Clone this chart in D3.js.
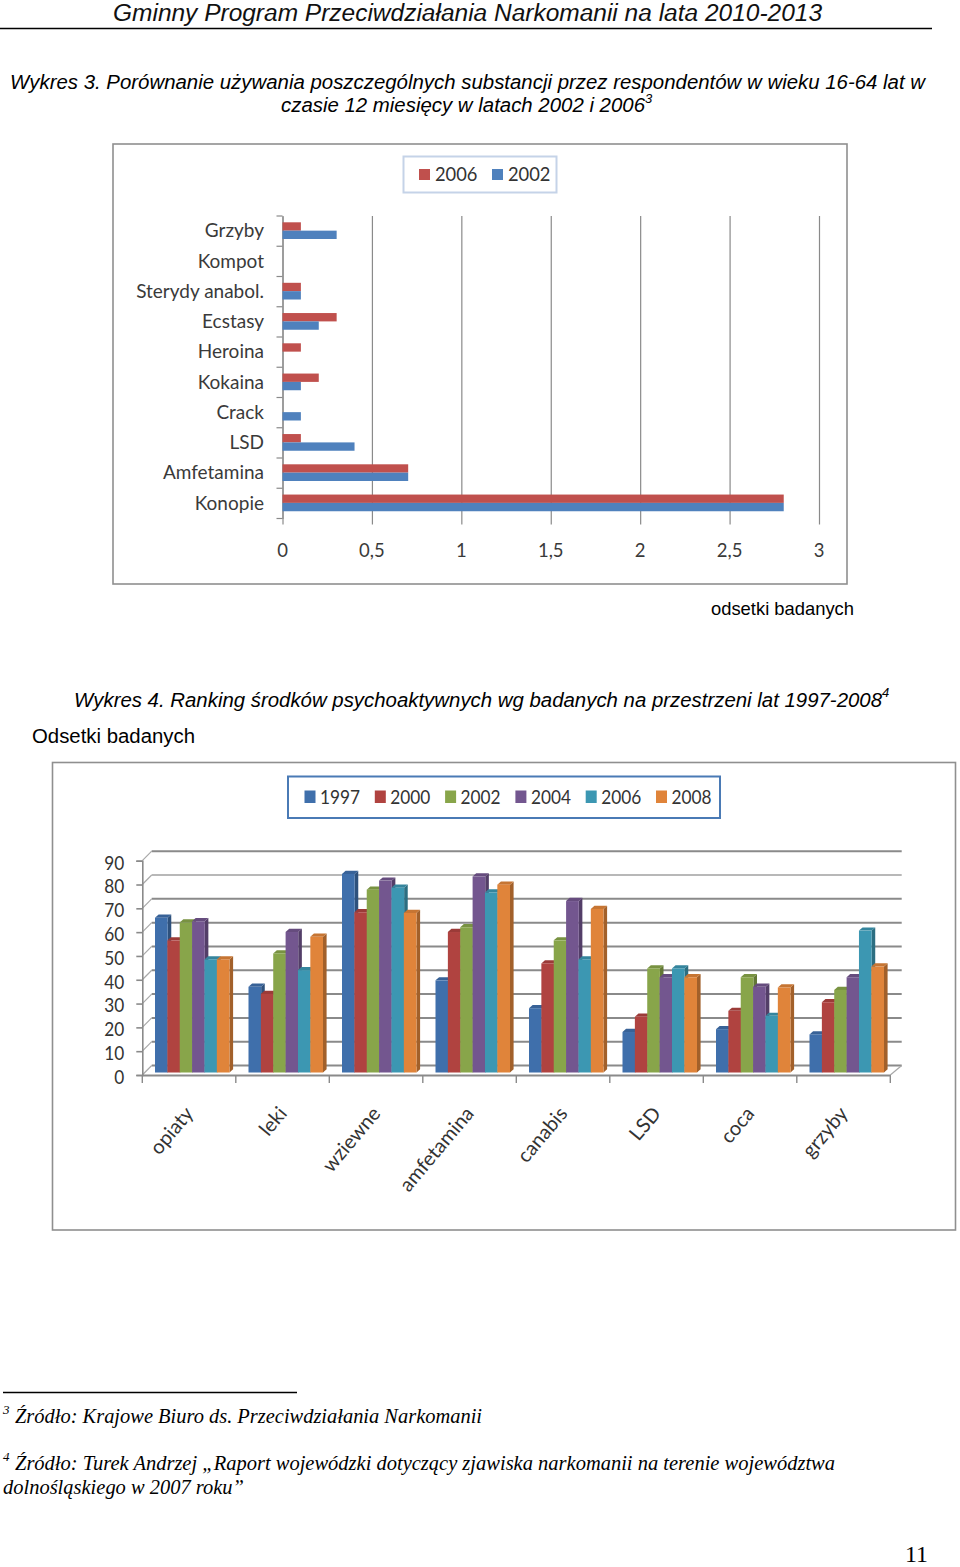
<!DOCTYPE html>
<html><head><meta charset="utf-8">
<script src="https://cdn.jsdelivr.net/npm/d3@7/dist/d3.min.js"></script>
<style>html,body{margin:0;padding:0;background:#fff}svg{display:block}</style>
</head><body><svg id="c" width="960" height="1567"></svg>
<script>
const hCategories = ["Grzyby","Kompot","Sterydy anabol.","Ecstasy","Heroina","Kokaina","Crack","LSD","Amfetamina","Konopie"];
const hSeriesNames = ["2006","2002"];
const h2006 = [0.1,0,0.1,0.3,0.1,0.2,0,0.1,0.7,2.8];
const h2002 = [0.3,0,0.1,0.2,0,0.1,0.1,0.4,0.7,2.8];
const hTicks = [0,0.5,1,1.5,2,2.5,3];
const hTickLabels = ["0","0,5","1","1,5","2","2,5","3"];

const vCategories = ["opiaty","leki","wziewne","amfetamina","canabis","LSD","coca","grzyby"];
const vSeriesNames = ["1997","2000","2002","2004","2006","2008"];
const v1997 = [65,36,83.4,38.7,27,17,18.2,16];
const v2000 = [55.5,33,67.3,59,45.8,23.4,25.9,29.5];
const v2002 = [63,50,76.8,61,55.5,43.7,40,34.7];
const v2004 = [63.5,59,80.6,82.3,72,40,36,40];
const v2006 = [47.5,43,77.6,75.6,47.5,43.7,23.8,59.6];
const v2008 = [47.5,57,67,78.9,68.7,40,35.7,44.5];
const vTicks = [0,10,20,30,40,50,60,70,80,90];

const svg = d3.select("#c");
const CHART = "Lato, sans-serif", SANS = "'Liberation Sans', Arial, sans-serif", SERIF = "'Liberation Serif', serif";
function txt(s,x,y,size,fam,opt={}){
  const t = svg.append("text").attr("x",x).attr("y",y).attr("font-size",size).attr("font-family",fam)
    .attr("fill",opt.fill||"#000").attr("font-style",opt.italic?"italic":"normal").text(s);
  if(opt.anchor) t.attr("text-anchor",opt.anchor);
  if(opt.len) t.attr("textLength",opt.len).attr("lengthAdjust","spacingAndGlyphs");
  return t;
}
// page text
txt("Gminny Program Przeciwdziałania Narkomanii na lata 2010-2013",113,21,23,SANS,{italic:1,fill:"#111",len:709});
svg.append("line").attr("x1",0).attr("x2",932).attr("y1",28.5).attr("y2",28.5).attr("stroke","#000").attr("stroke-width",1.4);
txt("Wykres 3. Porównanie używania poszczególnych substancji przez respondentów w wieku 16-64 lat w",10,89,20,SANS,{italic:1,len:915});
txt("czasie 12 miesięcy w latach 2002 i 2006",281,112,20,SANS,{italic:1,len:364});
txt("3",645,103,13,SANS,{italic:1});
txt("odsetki badanych",711,615,18.5,SANS,{len:143});
txt("Wykres 4. Ranking środków psychoaktywnych wg badanych na przestrzeni lat 1997-2008",74,707,20,SANS,{italic:1,len:808});
txt("4",882,697,13,SANS,{italic:1});
txt("Odsetki badanych",32,743,20,SANS,{len:163});
svg.append("line").attr("x1",3).attr("x2",297).attr("y1",1392.5).attr("y2",1392.5).attr("stroke","#000").attr("stroke-width",1.4);
txt("3",3,1414,13,SERIF,{italic:1});
txt("Źródło: Krajowe Biuro ds. Przeciwdziałania Narkomanii",15,1423,20,SERIF,{italic:1,len:467});
txt("4",3,1461,13,SERIF,{italic:1});
txt("Źródło: Turek Andrzej „Raport wojewódzki dotyczący zjawiska narkomanii na terenie województwa",15,1470,20,SERIF,{italic:1,len:820});
txt("dolnośląskiego w 2007 roku”",3,1494,20,SERIF,{italic:1,len:241});
txt("11",905,1562,23,SERIF,{len:23});

// ---------- Chart 1 (horizontal)
const frame = (x,y,w,h)=>svg.append("rect").attr("x",x).attr("y",y).attr("width",w).attr("height",h).attr("fill","#fff").attr("stroke","#8f8f8f").attr("stroke-width",1.6);
frame(113,144,734,440);
const hX = d3.scaleLinear().domain([0,3]).range([282.5,819]);
const hY = d3.scaleBand().domain(hCategories).range([216,518.5]);
const hS = d3.scaleBand().domain(hSeriesNames).range([6.3,23]);
const hColors = {"2006":"#c0504d","2002":"#4f81bd"};
const G1 = svg.append("g");
const hXAxis = d3.axisBottom(hX).tickValues(hTicks).tickSize(6).tickFormat((d,i)=>hTickLabels[i]);
const gx = G1.append("g").attr("transform","translate(0,518.5)").call(hXAxis);
gx.select(".domain").remove();
gx.selectAll("line").attr("stroke","#8a8a8a").attr("stroke-width",1.2).attr("y1",-302.5);
gx.selectAll("text").attr("font-family",CHART).attr("font-size",18.5).attr("fill","#3a3a3a").attr("y",25.5).attr("dy","0.71em").attr("dx","-0.5");
const hYAxis = d3.axisLeft(hY).tickSize(0).tickPadding(18.5);
const gy = G1.append("g").attr("transform","translate(282.5,0)").call(hYAxis);
gy.select(".domain").attr("stroke","#8a8a8a").attr("stroke-width",1.2);
gy.selectAll("text").attr("font-family",CHART).attr("font-size",19).attr("fill","#3a3a3a").attr("dy","0.33em");
G1.append("g").selectAll("line").data(hCategories.concat(["end"])).join("line")
  .attr("x1",276.5).attr("x2",282.5).attr("y1",(d,i)=>216+i*hY.step()).attr("y2",(d,i)=>216+i*hY.step())
  .attr("stroke","#8a8a8a").attr("stroke-width",1.2);
[["2006",h2006],["2002",h2002]].forEach(([name,vals])=>{
  G1.append("g").selectAll("rect").data(vals).join("rect")
    .attr("x",hX(0)).attr("y",(d,i)=>hY(hCategories[i])+hS(name))
    .attr("width",d=>hX(d)-hX(0)+0.5).attr("height",hS.bandwidth()).attr("fill",hColors[name])
    .attr("display",d=>d===0?"none":null);
});
svg.append("rect").attr("x",403.5).attr("y",156.5).attr("width",153).attr("height",36).attr("fill","#fff").attr("stroke","#c5d3e8").attr("stroke-width",2);
hSeriesNames.forEach((n,i)=>{
  const lx = d3.scaleLinear().domain([0,1]).range([419,492])(i);
  svg.append("rect").attr("x",lx).attr("y",169).attr("width",11).attr("height",11).attr("fill",hColors[n]);
  txt(n,lx+16,180.5,19,CHART,{fill:"#333",len:42.5});
});

// ---------- Chart 2 (3D columns)
frame(52.5,762.5,903,467.5);
const vX = d3.scaleBand().domain(vCategories).range([142.3,890.3]);
const vY = d3.scaleLinear().domain([0,90]).range([1075,860.7]);
const vS = d3.scaleBand().domain(vSeriesNames).range([12.7,86.9]);
const vSeries = [v1997,v2000,v2002,v2004,v2006,v2008];
const vColors = ["#3f6fab","#b04340","#88a54a","#73568f","#3c97b2","#e0843a"];
const G2 = svg.append("g");
const GRID="#8a8a8a";
const back = {dx:9.4,dy:-9.5}, d3x = 3.6, d3y = 3.2, base = {dx:3.0,dy:-2.5};
// back-wall gridlines and wall diagonals
G2.append("g").selectAll("line").data(vTicks).join("line")
  .attr("x1",142.3+back.dx).attr("x2",901.7).attr("y1",d=>vY(d)+back.dy).attr("y2",d=>vY(d)+back.dy)
  .attr("stroke",d=>d===80?"#b8b8b8":GRID).attr("stroke-width",2);
G2.append("g").selectAll("line").data(vTicks).join("line")
  .attr("x1",142.3).attr("x2",142.3+back.dx).attr("y1",d=>vY(d)).attr("y2",d=>vY(d)+back.dy)
  .attr("stroke","#a8a8a8").attr("stroke-width",1.2);
const vAxisL = d3.axisLeft(vY).tickValues(vTicks).tickSize(6).tickPadding(12);
const gvy = G2.append("g").attr("transform","translate(142.3,0)").call(vAxisL);
gvy.select(".domain").attr("stroke",GRID).attr("stroke-width",1.6);
gvy.selectAll("line").attr("stroke",GRID).attr("stroke-width",1.6);
gvy.selectAll("text").attr("font-family",CHART).attr("font-size",20).attr("fill","#333").attr("dy","0.42em")
  .attr("x",-18).attr("textLength",d=>d===0?10:20).attr("lengthAdjust","spacingAndGlyphs");
const vAxisB = d3.axisBottom(vX).tickSize(0).tickPadding(0);
const gvx = G2.append("g").attr("transform","translate(0,1075)").call(vAxisB);
gvx.select(".domain").attr("stroke",GRID).attr("stroke-width",1.8);
gvx.selectAll("line").remove();
gvx.selectAll("text").remove();
G2.append("g").selectAll("line").data(d3.range(vCategories.length+1)).join("line")
  .attr("x1",i=>142.3+i*vX.step()).attr("x2",i=>142.3+i*vX.step()).attr("y1",1075).attr("y2",1083)
  .attr("stroke",GRID).attr("stroke-width",1.4);
G2.append("line").attr("x1",890.3).attr("x2",901.7).attr("y1",1075).attr("y2",1065.5).attr("stroke","#a8a8a8").attr("stroke-width",1.2);
// bars
const shade = (c,k)=>d3.rgb(c).darker(k).formatHex();
vCategories.forEach((cat,ci)=>{
  const g = G2.append("g");
  vSeriesNames.forEach((s,si)=>{
    const v = vSeries[si][ci], c = vColors[si];
    const x0 = vX(cat)+vS(s), x1 = x0+vS.bandwidth()+0.3;
    const yT = vY(v)+base.dy, yB = vY(0)+base.dy;
    g.append("path").attr("fill",shade(c,0.9))
      .attr("d",d3.line()([[x1,yT],[x1+d3x,yT-d3y],[x1+d3x,yB-d3y],[x1,yB]])+"Z");
    g.append("path").attr("fill",shade(c,0.35))
      .attr("d",d3.line()([[x0,yT],[x0+d3x,yT-d3y],[x1+d3x,yT-d3y],[x1,yT]])+"Z");
    g.append("rect").attr("x",x0).attr("y",yT).attr("width",x1-x0).attr("height",yB-yT).attr("fill",c);
  });
});
// rotated labels
vCategories.forEach(cat=>{
  const x = vX(cat)+vX.bandwidth()/2-3, y = 1107;
  svg.append("text").attr("transform",`translate(${x},${y}) rotate(-50)`).attr("text-anchor","end").attr("dy","0.55em")
    .attr("font-family",CHART).attr("font-size",20).attr("fill","#333").text(cat);
});
// legend
svg.append("rect").attr("x",288).attr("y",776.5).attr("width",432).attr("height",41.5).attr("fill","#fff").attr("stroke","#4a7ab5").attr("stroke-width",2);
const lX = d3.scaleLinear().domain([0,5]).range([304.5,656]);
vSeriesNames.forEach((n,i)=>{
  svg.append("rect").attr("x",lX(i)).attr("y",790.5).attr("width",11).attr("height",12.5).attr("fill",vColors[i]);
  txt(n,lX(i)+15.5,804,20,CHART,{fill:"#333",len:40});
});
</script></body></html>
